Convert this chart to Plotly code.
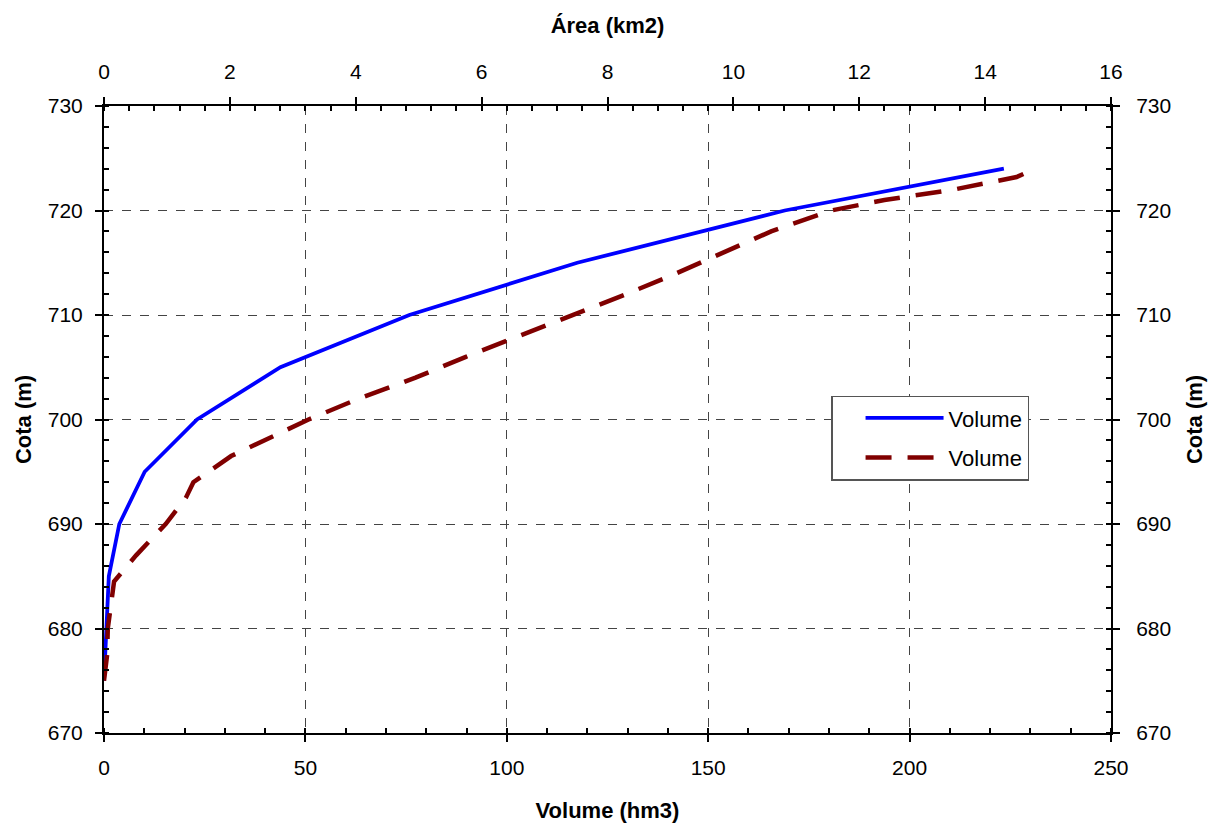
import plotly.graph_objects as go

# Volume (hm3) vs cota (m) -- bottom axis
vol_cota = [675, 680, 685, 690, 695, 700, 705, 710, 715, 720, 723, 724]
vol_hm3 = [0.0, 0.6, 1.2, 3.8, 10.1, 23.1, 43.8, 75.8, 117.5, 169.0, 210.0, 223.4]

# Área (km2) vs cota (m) -- top axis
area_cota = [675, 677.5, 680, 682.5, 684.5, 687, 690, 692.5, 694, 696.5, 698.5, 700,
             702, 704, 706, 708, 710, 712, 714, 716, 718, 720, 721, 722, 722.7, 723.2, 724]
area_km2 = [0.0, 0.05, 0.06, 0.11, 0.16, 0.51, 0.98, 1.30, 1.42, 2.02, 2.70, 3.25,
            4.05, 4.95, 5.75, 6.60, 7.42, 8.30, 9.10, 9.83, 10.60, 11.55, 12.40, 13.50,
            14.10, 14.50, 14.80]

FONT = "Liberation Sans, Arial, sans-serif"

fig = go.Figure()
fig.add_trace(go.Scatter(x=vol_hm3, y=vol_cota, mode="lines", name="Volume",
                         legendgroup="a",
                         line=dict(color="#0000FF", width=3.8),
                         xaxis="x", yaxis="y"))
fig.add_trace(go.Scatter(x=area_km2, y=area_cota, mode="lines", name="Volume",
                         legendgroup="b",
                         line=dict(color="#800000", width=4.5, dash="26px,16px"),
                         xaxis="x2", yaxis="y2"))

tickfont = dict(family=FONT, size=21, color="black")
titlefont = dict(family=FONT, size=22, color="black", weight="bold")
minor_common = dict(ticks="inside", ticklen=5, tickcolor="black", tickwidth=1.5, showgrid=False)

fig.update_layout(
    width=1215, height=831,
    margin=dict(l=104, r=94, t=106, b=89),
    paper_bgcolor="white", plot_bgcolor="white",
    font=dict(family=FONT, size=21, color="black"),
    showlegend=True,
    legend=dict(x=0.722, y=0.538, xanchor="left", yanchor="top",
                bgcolor="white", bordercolor="#555555", borderwidth=1.5,
                font=dict(family=FONT, size=22, color="black"),
                traceorder="grouped", tracegroupgap=8,
                itemwidth=78, indentation=28),
    xaxis=dict(range=[0, 250], dtick=50, tick0=0, side="bottom",
               showline=True, linecolor="black", linewidth=2,
               ticks="outside", ticklen=7, tickwidth=1.5, tickcolor="black",
               minor=dict(dtick=10, **minor_common),
               showgrid=True, gridcolor="#444444", gridwidth=1, griddash="dash",
               zeroline=False, tickfont=tickfont, ticklabelstandoff=8,
               title=dict(text="Volume (hm3)", font=titlefont, standoff=24)),
    yaxis=dict(range=[670, 730], dtick=10, tick0=670,
               showline=True, linecolor="black", linewidth=2,
               ticks="outside", ticklen=7, tickwidth=1.5, tickcolor="black",
               minor=dict(dtick=2, **minor_common),
               showgrid=True, gridcolor="#444444", gridwidth=1, griddash="dash",
               zeroline=False, tickfont=tickfont, ticklabelstandoff=8,
               title=dict(text="Cota (m)", font=titlefont, standoff=10)),
    xaxis2=dict(range=[0, 16], dtick=2, tick0=0, side="top", overlaying="x", anchor="y2",
                showline=True, linecolor="black", linewidth=2,
                ticks="outside", ticklen=7, tickwidth=1.5, tickcolor="black",
                minor=dict(dtick=0.4, **minor_common),
                showgrid=False, zeroline=False, tickfont=tickfont, ticklabelstandoff=10,
                title=dict(text="Área (km2)", font=titlefont, standoff=20)),
    yaxis2=dict(range=[670, 730], dtick=10, tick0=670, side="right", overlaying="y", anchor="x2",
                showline=True, linecolor="black", linewidth=2,
                ticks="outside", ticklen=7, tickwidth=1.5, tickcolor="black",
                minor=dict(dtick=2, **minor_common),
                showgrid=False, zeroline=False, tickfont=tickfont, ticklabelstandoff=12,
                title=dict(text="Cota (m)", font=titlefont, standoff=16)),
)

fig.write_html("out.html", config={"displayModeBar": False},
               post_script="document.body.style.margin='0';document.body.style.overflow='hidden';")
